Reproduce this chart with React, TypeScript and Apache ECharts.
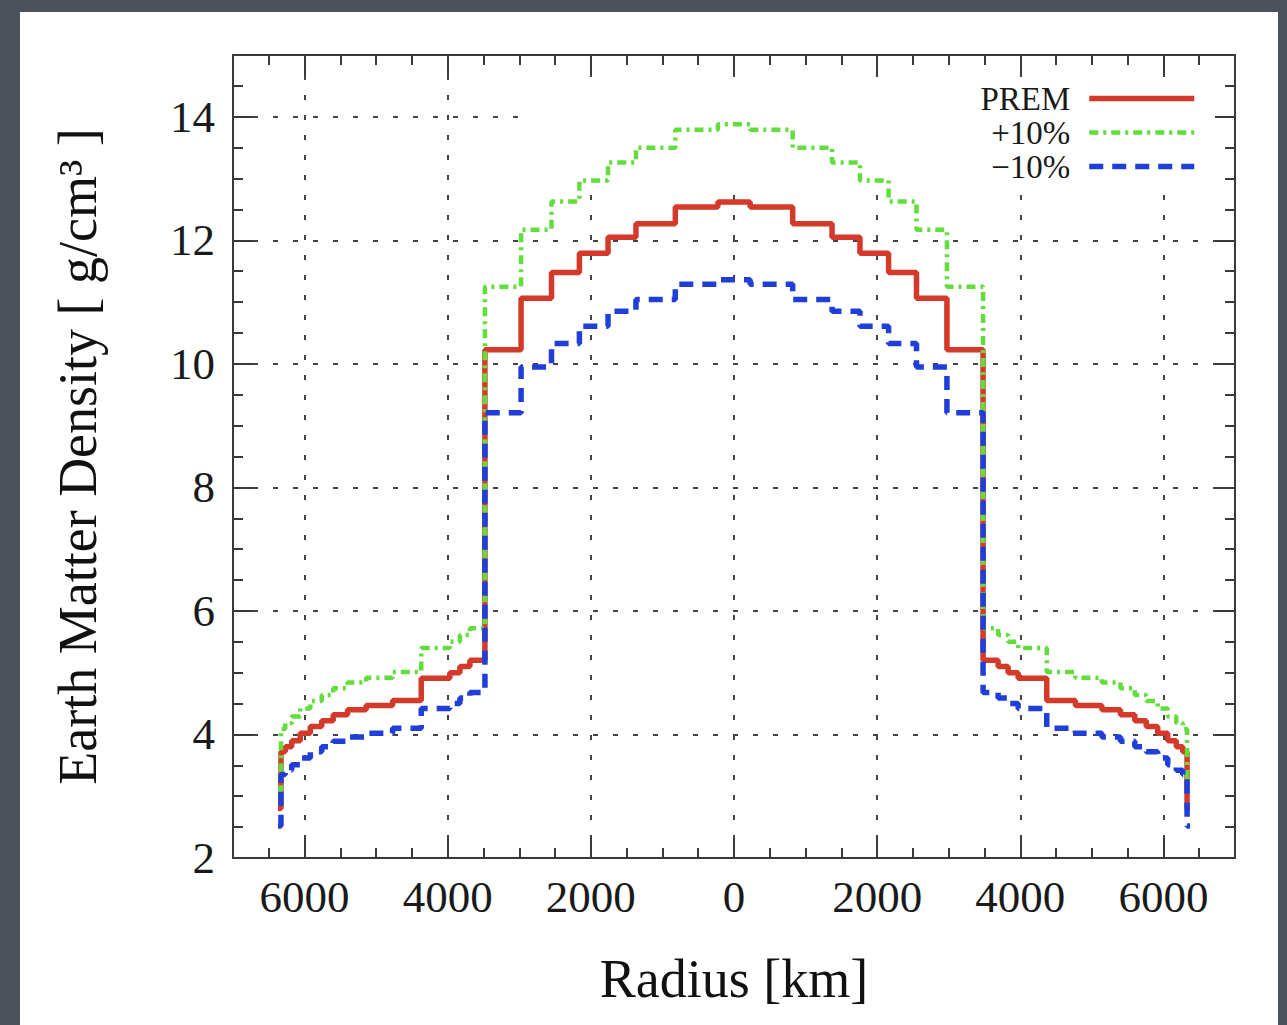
import React, { useEffect, useRef } from "react";
import * as echarts from "echarts";

// Radial bin edges (km, from centre outward) of the step profile
const radiusEdgesKm = [0, 225, 820, 1370, 1760, 2160, 2550, 2975, 3480, 3690, 3830, 3970, 4370, 4770, 5140, 5400, 5600, 5760, 5920, 6060, 6180, 6270, 6330, 6371];
// Density per bin (g/cm^3)
const premDensity = [12.62, 12.54, 12.27, 12.05, 11.79, 11.48, 11.06, 10.23, 5.20, 5.10, 5.00, 4.91, 4.55, 4.47, 4.40, 4.32, 4.22, 4.13, 4.02, 3.90, 3.80, 3.72, 2.80];
const plus10Density = [13.88, 13.79, 13.50, 13.26, 12.97, 12.63, 12.17, 11.25, 5.72, 5.61, 5.50, 5.40, 5.01, 4.92, 4.84, 4.75, 4.64, 4.54, 4.42, 4.29, 4.18, 4.09, 3.08];
const minus10Density = [11.36, 11.29, 11.04, 10.85, 10.61, 10.33, 9.95, 9.21, 4.68, 4.59, 4.50, 4.42, 4.10, 4.02, 3.96, 3.89, 3.80, 3.72, 3.62, 3.51, 3.42, 3.35, 2.52];

const seriesNames = ["PREM", "+10%", "\u221210%"];
const xMajorTicks = [-6000, -4000, -2000, 0, 2000, 4000, 6000];
const yMajorTicks = [2, 4, 6, 8, 10, 12, 14];

const FONT = "'Liberation Serif', 'Times New Roman', serif";

function stepPoints(values: number[]): number[][] {
  const pts: number[][] = [];
  for (let i = values.length - 1; i >= 0; i--) {
    pts.push([-radiusEdgesKm[i + 1], values[i]]);
    pts.push([-radiusEdgesKm[i], values[i]]);
  }
  for (let i = 0; i < values.length; i++) {
    pts.push([radiusEdgesKm[i], values[i]]);
    pts.push([radiusEdgesKm[i + 1], values[i]]);
  }
  return pts;
}

export default function App() {
  const ref = useRef<HTMLDivElement>(null);
  useEffect(() => {
    if (!ref.current) return;
    const chart = echarts.init(ref.current, null, { renderer: "svg" });
    const frame = { show: true, onZero: false, lineStyle: { color: "#3a3a3a", width: 2 } };
    const noLine = { show: false, onZero: false };
    const gridLine = { show: true, lineStyle: { color: "#444444", width: 2, type: [5, 15] } };
    const xCommon = { type: "value", min: -7000, max: 7000, interval: 500 };
    const yCommon = { type: "value", min: 2, max: 15, interval: 0.5 };
    const tickStyle = { color: "#3a3a3a", width: 2 };
    chart.setOption({
      animation: false,
      grid: { left: 233, right: 52, top: 55, bottom: 167, containLabel: false },
      legend: {
        orient: "vertical",
        right: 90,
        top: 82,
        align: "right",
        padding: 0,
        itemGap: 1,
        itemWidth: 105,
        itemHeight: 14,
        selectedMode: false,
        data: [
          { name: seriesNames[0], lineStyle: { width: 5.5 } },
          { name: seriesNames[1], lineStyle: { width: 4.5 } },
          { name: seriesNames[2], lineStyle: { width: 5.5 } },
        ],
        itemStyle: { opacity: 0 },
        textStyle: { fontFamily: FONT, fontSize: 33, color: "#1a1a1a", lineHeight: 30, padding: [0, 14, 0, 0] },
      },
      graphic: {
        elements: [
          { type: "rect", z: 1, silent: true, shape: { x: 530, y: 77, width: 702, height: 106 }, style: { fill: "#ffffff" } },
        ],
      },
      xAxis: [
        {
          ...xCommon,
          position: "bottom",
          z: 0,
          name: "Radius [km]",
          nameLocation: "middle",
          nameGap: 94,
          nameTextStyle: { fontFamily: FONT, fontSize: 54, color: "#111" },
          axisLine: frame,
          axisTick: { show: true, inside: true, length: 20, lineStyle: tickStyle, customValues: xMajorTicks },
          axisLabel: { show: true, margin: 16, fontFamily: FONT, fontSize: 45, color: "#1a1a1a", customValues: xMajorTicks, formatter: (v: number) => String(Math.abs(v)) },
          splitLine: gridLine,
        },
        {
          ...xCommon,
          position: "bottom",
          z: 3,
          axisLine: noLine,
          axisTick: { show: true, inside: true, length: 10, lineStyle: tickStyle },
          axisLabel: { show: false },
          splitLine: { show: false },
        },
        {
          ...xCommon,
          position: "top",
          z: 3,
          axisLine: frame,
          axisTick: { show: true, inside: true, length: 20, lineStyle: tickStyle, customValues: xMajorTicks },
          axisLabel: { show: false },
          splitLine: { show: false },
        },
        {
          ...xCommon,
          position: "top",
          z: 3,
          axisLine: noLine,
          axisTick: { show: true, inside: true, length: 10, lineStyle: tickStyle },
          axisLabel: { show: false },
          splitLine: { show: false },
        },
      ],
      yAxis: [
        {
          ...yCommon,
          position: "left",
          z: 0,
          name: "Earth Matter Density [ g/cm\u00B3 ]",
          nameLocation: "middle",
          nameGap: 128,
          nameTextStyle: { fontFamily: FONT, fontSize: 54, color: "#111" },
          axisLine: frame,
          axisTick: { show: true, inside: true, length: 20, lineStyle: tickStyle, customValues: yMajorTicks },
          axisLabel: { show: true, margin: 18, fontFamily: FONT, fontSize: 45, color: "#1a1a1a", customValues: yMajorTicks },
          splitLine: gridLine,
        },
        {
          ...yCommon,
          position: "left",
          z: 3,
          axisLine: noLine,
          axisTick: { show: true, inside: true, length: 10, lineStyle: tickStyle },
          axisLabel: { show: false },
          splitLine: { show: false },
        },
        {
          ...yCommon,
          position: "right",
          z: 3,
          axisLine: frame,
          axisTick: { show: true, inside: true, length: 20, lineStyle: tickStyle, customValues: yMajorTicks },
          axisLabel: { show: false },
          splitLine: { show: false },
        },
        {
          ...yCommon,
          position: "right",
          z: 3,
          axisLine: noLine,
          axisTick: { show: true, inside: true, length: 10, lineStyle: tickStyle },
          axisLabel: { show: false },
          splitLine: { show: false },
        },
      ],
      series: [
        {
          name: seriesNames[0],
          type: "line",
          xAxisIndex: 0,
          yAxisIndex: 0,
          z: 2,
          symbol: "none",
          showSymbol: false,
          data: stepPoints(premDensity),
          lineStyle: { color: "#d43a2a", width: 5.5, type: "solid" },
          itemStyle: { color: "#d43a2a" },
        },
        {
          name: seriesNames[1],
          type: "line",
          xAxisIndex: 0,
          yAxisIndex: 0,
          z: 2,
          symbol: "none",
          showSymbol: false,
          data: stepPoints(plus10Density),
          lineStyle: { color: "#62de3c", width: 4.5, type: [9, 5, 3, 5] },
          itemStyle: { color: "#62de3c" },
        },
        {
          name: seriesNames[2],
          type: "line",
          xAxisIndex: 0,
          yAxisIndex: 0,
          z: 2,
          symbol: "none",
          showSymbol: false,
          data: stepPoints(minus10Density),
          lineStyle: { color: "#1f3fd8", width: 5.5, type: [14, 9] },
          itemStyle: { color: "#1f3fd8" },
        },
      ],
    });
    return () => chart.dispose();
  }, []);

  return (
    <div style={{ position: "fixed", left: 0, top: 0, width: 1287, height: 1025, background: "#4c525a", overflow: "hidden" }}>
      <div style={{ position: "absolute", left: 20, top: 12, width: 1258, height: 1020, background: "#ffffff" }} />
      <div ref={ref} style={{ position: "absolute", left: 0, top: 0, width: 1287, height: 1025 }} />
    </div>
  );
}
